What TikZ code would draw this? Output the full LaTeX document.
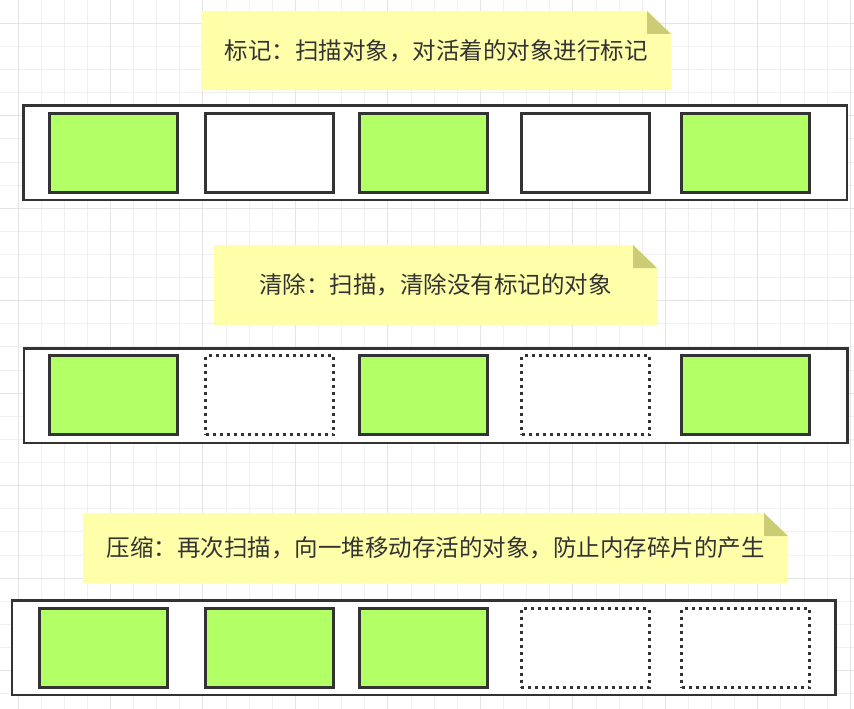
\documentclass[tikz,border=0pt]{standalone}
\usepackage{fontspec}
\usepackage{tikz}
\usetikzlibrary{backgrounds}
\newfontfamily\cjk{Noto Sans CJK SC}

\definecolor{inkgray}{HTML}{333333}
\definecolor{livegreen}{HTML}{B3FF66}
\definecolor{notebg}{HTML}{FFFFAA}
\definecolor{notecorner}{HTML}{CCCC77}
\definecolor{gridminor}{HTML}{F0F0F0}
\definecolor{gridmajor}{HTML}{E4E4E4}

\tikzset{
  note/.style={inner sep=0pt, outer sep=0pt, text=inkgray,
    font=\cjk\fontsize{23.5}{28}\selectfont},
  heapbar/.style={draw=inkgray, line width=2.5pt, fill=white,
    minimum width=823.5pt, minimum height=94.5pt, inner sep=0pt, outer sep=0pt},
  objbox/.style={draw=inkgray, line width=3pt,
    minimum width=128pt, minimum height=79pt, inner sep=0pt, outer sep=0pt},
  liveobj/.style={objbox, fill=livegreen},
  deadobj/.style={objbox, fill=white},
  goneobj/.style={objbox, fill=white, dash pattern=on 3pt off 4pt},
}

\begin{document}
\begin{tikzpicture}[x=1pt, y=-1pt]
\useasboundingbox (0,0) rectangle (854,709);

% notes
\node[note, minimum width=470pt, minimum height=79pt] (note1) at (436,50.5) {标记：扫描对象，对活着的对象进行标记};
\node[note, minimum width=443pt, minimum height=80pt] (note2) at (435.5,285) {清除：扫描，清除没有标记的对象};
\node[note, minimum width=705pt, minimum height=70pt] (note3) at (435.5,548) {压缩：再次扫描，向一堆移动存活的对象，防止内存碎片的产生};

% mark
\node[heapbar] (bar1) at (435,152.5) {};
\node[liveobj] (11) at (113.5,153) {};
\node[deadobj] (12) at (269.5,153) {};
\node[liveobj] (13) at (423.5,153) {};
\node[deadobj] (14) at (585.5,153) {};
\node[liveobj] (15) at (745,153) {};

% sweep
\node[heapbar] (bar2) at (435.75,395.5) {};
\node[liveobj] (21) at (113.5,395) {};
\node[goneobj] (22) at (269.5,395) {};
\node[liveobj] (23) at (423.5,395) {};
\node[goneobj] (24) at (585.5,395) {};
\node[liveobj] (25) at (745,395) {};

% compact
\node[heapbar] (bar3) at (423.5,647.5) {};
\node[liveobj] (31) at (103.5,648) {};
\node[liveobj] (32) at (269.5,648) {};
\node[liveobj] (33) at (423.5,648) {};
\node[goneobj] (34) at (585,648) {};
\node[goneobj] (35) at (745.5,648) {};

\begin{scope}[on background layer]
% grid paper
\foreach \i in {0,...,36}
  \draw[gridminor, line width=1pt] ({18+23.12*\i},0) -- ++(0,709);
\foreach \j in {0,...,29}
  \draw[gridminor, line width=1pt] (0,{23.3+23.12*\j}) -- ++(854,0);
\foreach \i in {0,4,...,36}
  \draw[gridmajor, line width=1pt] ({18+23.12*\i},0) -- ++(0,709);
\foreach \j in {0,4,...,28}
  \draw[gridmajor, line width=1pt] (0,{23.3+23.12*\j}) -- ++(854,0);
% note paper with folded corner
\foreach \n in {note1,note2,note3} {
  \fill[notebg] (\n.south west) -- (\n.north west) -- ([xshift=-24pt]\n.north east)
    -- ([yshift=-23pt]\n.north east) -- (\n.south east) -- cycle;
  \fill[notecorner] ([xshift=-24pt]\n.north east) -- ([xshift=-24pt,yshift=-23pt]\n.north east)
    -- ([yshift=-23pt]\n.north east) -- cycle;
}
\end{scope}
\end{tikzpicture}
\end{document}
